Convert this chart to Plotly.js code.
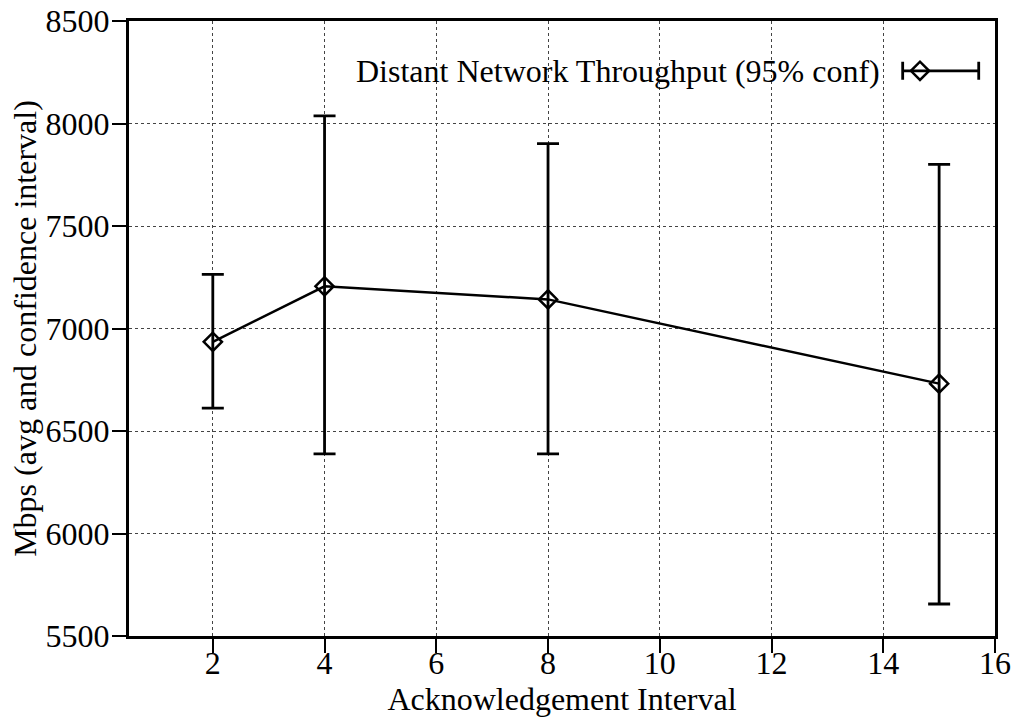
<!DOCTYPE html>
<html>
<head>
<meta charset="utf-8">
<script src="https://cdn.plot.ly/plotly-3.0.1.min.js"></script>
<style>html,body{margin:0;padding:0;background:#fff;}#chart{width:1019px;height:721px;}</style>
</head>
<body>
<div id="chart"></div>
<script>
// Data
const ackInterval = [2, 4, 8, 15];
const throughputAvg = [6935, 7206, 7142, 6731];
const confUpper = [7264, 8037, 7902, 7801];
const confLower = [6612, 6388, 6388, 5656];
const seriesName = "Distant Network Throughput (95% conf)";
const xTickVals = [2, 4, 6, 8, 10, 12, 14, 16];
const yTickVals = [5500, 6000, 6500, 7000, 7500, 8000, 8500];

const errPlus = throughputAvg.map((v, i) => confUpper[i] - v);
const errMinus = throughputAvg.map((v, i) => v - confLower[i]);

const FONT = "Liberation Serif";

const mainTrace = {
  x: ackInterval,
  y: throughputAvg,
  type: "scatter",
  mode: "lines+markers",
  name: seriesName,
  showlegend: false,
  line: {color: "#000", width: 2.5},
  marker: {symbol: "diamond-open", size: 14, color: "#000", line: {color: "#000", width: 2.5}},
  error_y: {type: "data", symmetric: false, array: errPlus, arrayminus: errMinus,
            color: "#000", thickness: 2.8, width: 11},
  cliponaxis: false
};

// legend sample (gnuplot style: text, then sample on the right)
const legendSample = {
  x: [0.9134], y: [0.919],
  xaxis: "x2", yaxis: "y2",
  type: "scatter", mode: "markers", showlegend: false, hoverinfo: "skip",
  marker: {symbol: "diamond-open", size: 14, color: "#000", line: {color: "#000", width: 2.5}},
  error_x: {type: "data", symmetric: false, array: [0.0678], arrayminus: [0.02],
            color: "#000", thickness: 2.8, width: 9},
  cliponaxis: false
};

const layout = {
  width: 1019, height: 721,
  margin: {l: 129, r: 24, t: 21, b: 85},
  paper_bgcolor: "#fff", plot_bgcolor: "#fff",
  font: {family: FONT, size: 32, color: "#000"},
  showlegend: false,
  xaxis: {
    range: [0.5, 16], tickvals: xTickVals, ticktext: xTickVals.map(String),
    ticks: "outside", ticklen: 14, tickwidth: 2, tickcolor: "#000",
    showline: true, linecolor: "#000", linewidth: 3, mirror: true,
    showgrid: true, gridcolor: "#444", gridwidth: 1, griddash: "dot",
    zeroline: false, ticklabelstandoff: -17,
    tickfont: {family: FONT, size: 32, color: "#000"},
    title: {text: "Acknowledgement Interval", font: {family: FONT, size: 32, color: "#000"}, standoff: 2}
  },
  yaxis: {
    range: [5500, 8500], tickvals: yTickVals, ticktext: yTickVals.map(String),
    ticks: "outside", ticklen: 14, tickwidth: 2, tickcolor: "#000",
    showline: true, linecolor: "#000", linewidth: 3, mirror: true,
    showgrid: true, gridcolor: "#444", gridwidth: 1, griddash: "dot",
    zeroline: false, ticklabelstandoff: -4,
    tickfont: {family: FONT, size: 32, color: "#000"},
    title: {text: "Mbps (avg and confidence interval)", font: {family: FONT, size: 32, color: "#000"}, standoff: 0}
  },
  xaxis2: {overlaying: "x", range: [0, 1], visible: false, showgrid: false, zeroline: false},
  yaxis2: {overlaying: "y", range: [0, 1], visible: false, showgrid: false, zeroline: false},
  annotations: [{
    xref: "paper", yref: "paper", x: 0.8695, y: 0.919,
    xanchor: "right", yanchor: "middle", showarrow: false,
    text: seriesName, font: {family: FONT, size: 32, color: "#000"}
  }]
};

Plotly.newPlot("chart", [mainTrace, legendSample], layout, {staticPlot: true, displayModeBar: false});
</script>
</body>
</html>
